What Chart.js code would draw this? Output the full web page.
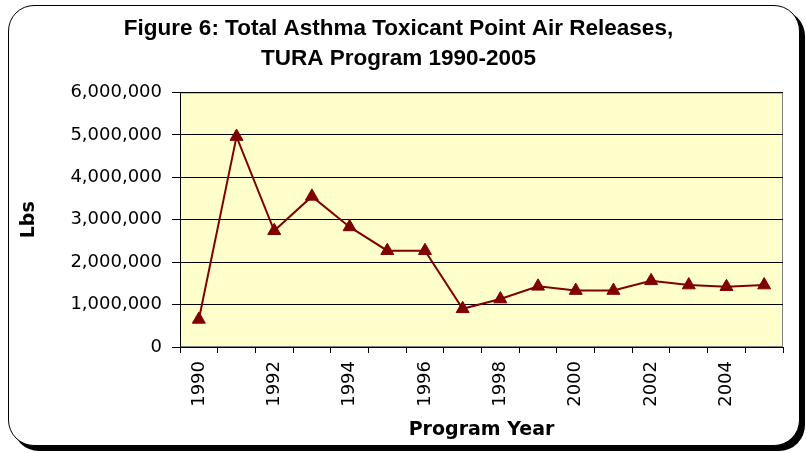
<!DOCTYPE html>
<html><head><meta charset="utf-8">
<script src="https://cdn.jsdelivr.net/npm/chart.js@4"></script>
<style>
html,body{margin:0;padding:0;background:#fff;}
#wrap{position:relative;width:806px;height:453px;overflow:hidden;}
#frame{position:absolute;left:8px;top:5px;width:790px;height:439px;border:1.5px solid #000;border-radius:26px;box-shadow:5px 5px 0 #000;background:#fff;}
canvas{position:absolute;left:0;top:0;}
</style></head><body>
<div id="wrap"><div id="frame"></div><canvas id="c" width="806" height="453"></canvas></div>
<script>
const years = ['1990','1991','1992','1993','1994','1995','1996','1997','1998','1999','2000','2001','2002','2003','2004','2005'];
const releases = [650000, 4960000, 2740000, 3550000, 2830000, 2270000, 2270000, 900000, 1130000, 1430000, 1330000, 1330000, 1560000, 1460000, 1420000, 1460000];
const titleLines = ['Figure 6: Total Asthma Toxicant Point Air Releases,', 'TURA Program 1990-2005'];
const yMin = 0, yMax = 6000000, yStep = 1000000;

const plotBg = {
  id: 'plotBg',
  beforeDraw(chart) {
    const {ctx, chartArea: a} = chart;
    ctx.save();
    ctx.fillStyle = '#FFFFCC';
    ctx.fillRect(a.left, a.top, a.width, a.height);
    ctx.strokeStyle = '#808080';
    ctx.lineWidth = 1;
    ctx.strokeRect(a.left + 0.5, a.top + 0.5, a.width - 1, a.height - 1);
    ctx.restore();
  }
};

new Chart(document.getElementById('c'), {
  type: 'line',
  data: {
    labels: years,
    datasets: [{
      data: releases,
      borderColor: '#800000',
      backgroundColor: '#800000',
      borderWidth: 2,
      pointStyle: 'triangle',
      pointRadius: 7.5,
      pointBorderWidth: 1,
      pointBackgroundColor: '#800000',
      pointBorderColor: '#800000',
      tension: 0,
      fill: false
    }]
  },
  options: {
    responsive: false,
    animation: false,
    events: [],
    layout: {padding: {left: 14, right: 23, top: 0, bottom: 0}},
    plugins: {
      legend: {display: false},
      tooltip: {enabled: false},
      title: {
        display: true,
        text: titleLines,
        color: '#000',
        font: {family: 'Liberation Sans', size: 22.5, weight: 'bold', lineHeight: 1.355},
        padding: {top: 13.5, bottom: 18}
      }
    },
    scales: {
      x: {
        offset: true,
        grid: {offset: true, drawOnChartArea: false, drawTicks: true, tickLength: 6, color: '#000'},
        border: {color: '#000', width: 1},
        ticks: {
          autoSkip: false, minRotation: 90, maxRotation: 90, padding: 8, color: '#000',
          font: {family: 'DejaVu Sans', size: 18},
          callback: function(v, i) { return i % 2 === 0 ? this.getLabelForValue(v) : ''; }
        },
        title: {display: true, text: 'Program Year', color: '#000',
          font: {family: 'DejaVu Sans', size: 19, weight: 'bold'}, padding: {top: 6, bottom: 12}},
        afterFit(s) { s.height = 106; }
      },
      y: {
        min: yMin, max: yMax,
        grid: {color: '#000', tickLength: 8},
        border: {color: '#000', width: 1},
        ticks: {stepSize: yStep, padding: 10, color: '#000',
          font: {family: 'DejaVu Sans', size: 18},
          callback: v => v.toLocaleString('en-US')},
        title: {display: true, text: 'Lbs', color: '#000',
          font: {family: 'DejaVu Sans', size: 19, weight: 'bold'}, padding: {top: 4, bottom: 4}},
        afterFit(s) { s.width = 166; }
      }
    }
  },
  plugins: [plotBg]
});
</script>
</body></html>
